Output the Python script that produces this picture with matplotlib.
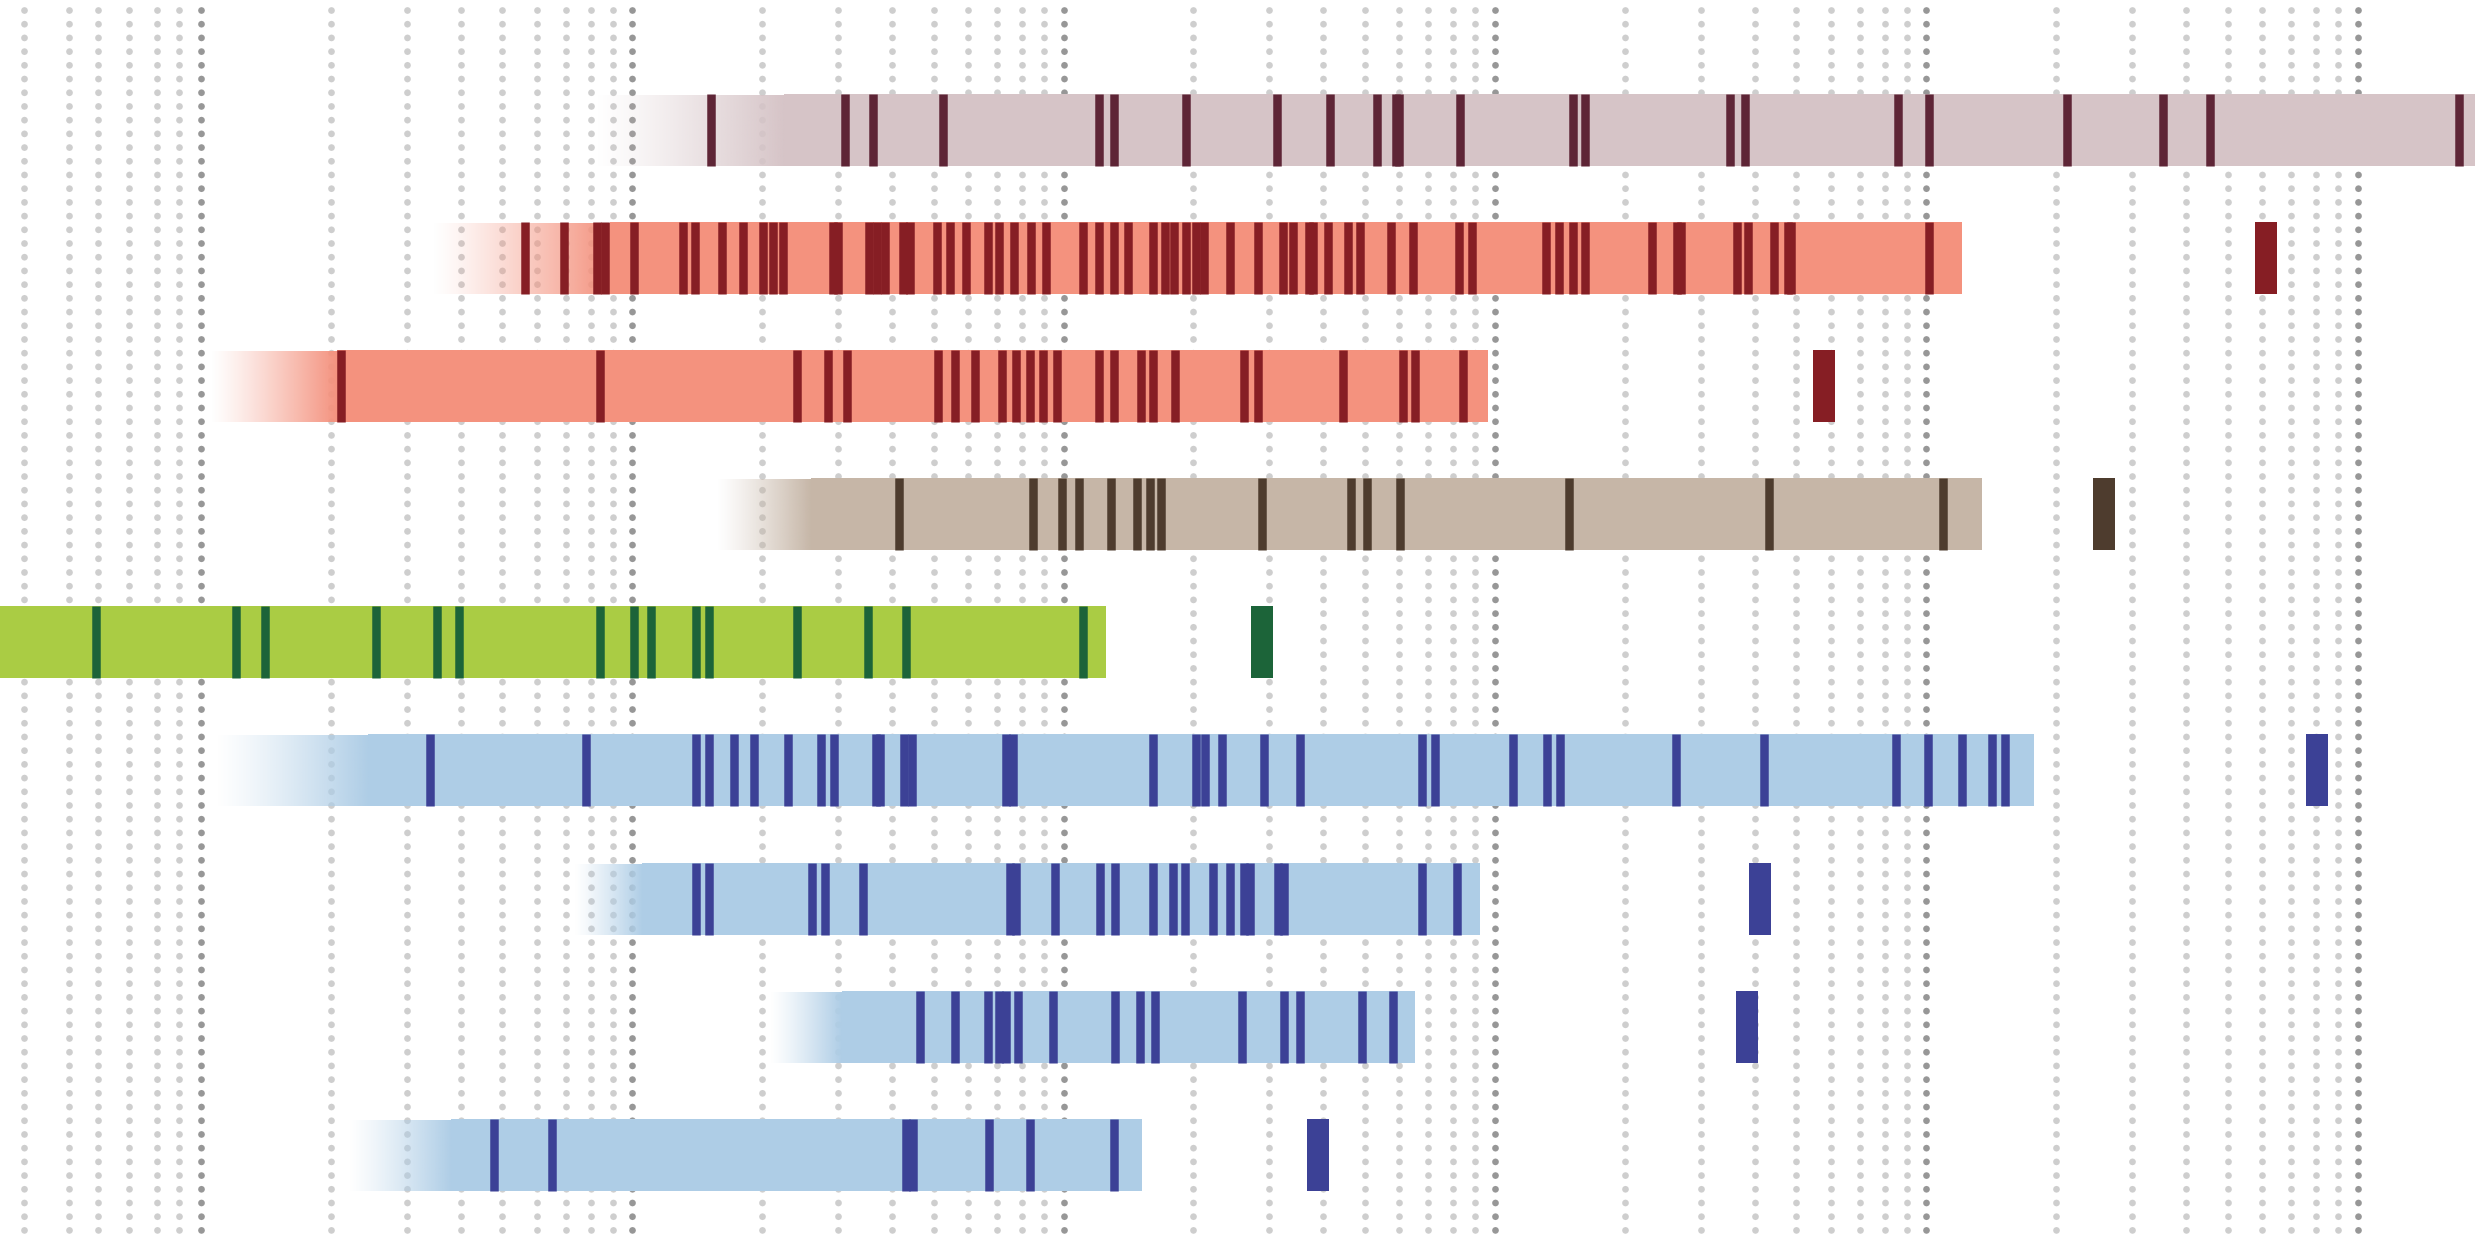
import numpy as np
import matplotlib
matplotlib.use('Agg')
from matplotlib import pyplot as plt
from matplotlib.colors import to_rgb

# vertical dotted guides on the log axis
grid_first = [0.389, 0.494, 0.578, 0.682, 0.789, 0.889]
grid_major = [1, 10, 100, 1000, 10000, 100000]
grid_minor = grid_first + [k * 10 ** n for n in range(5) for k in range(2, 10)]

# one entry per row, top to bottom
row_starts = [8.19, 3.43, 1.05, 15.6, 0.3, 1.083, 7.32, 20.9, 2.19]
row_full = [22.5, 8.87, 2.07, 25.9, 0.3, 2.44, 10.53, 30.6, 3.80]
row_ends = [250000, 12130, 960.9, 13460, 125.7, 17750, 922.6, 652.4, 152.3]
row_isolated = [None, 61160, 5792, 25820, 288.6, 80680, 4114, 3839, 389.6]

ticks_1 = [15.2, 31.2, 36.2, 52.4, 121, 131, 192, 312, 414, 534, 589, 599, 828,
           1515, 1617, 3514, 3805, 8592, 10140, 21230, 35340, 45560, 172200]
ticks_2 = [5.63, 6.93, 8.28, 8.64, 10.07, 13.1, 14.0, 16.1, 18.1, 20.05, 21.2, 22.4,
           29.2, 30.0, 35.3, 36.9, 38.5, 42.4, 44.0, 50.9, 54.5, 59.4, 66.6, 71.0,
           76.9, 83.9, 90.8, 111, 120.5, 130.8, 140.9, 160.9, 171.7, 180.7, 192.1,
           202.6, 212.1, 242.5, 282.1, 322.7, 339.6, 370.3, 379, 409.9, 455.2, 485.4,
           573, 646, 823.6, 882.7, 1313, 1407, 1515, 1621, 2318, 2649, 2698, 3636,
           3859, 4430, 4778, 4854, 10140]
ticks_3 = [2.11, 8.43, 24.1, 28.4, 31.4, 51.0, 56.0, 62.3, 71.8, 77.5, 83.4, 89.6,
           96.3, 120.5, 130.8, 151, 161.2, 181.6, 262.5, 282.1, 444.6, 610.9, 654, 843.7]
ticks_4 = [41.6, 84.9, 99.3, 108.5, 128.7, 147.8, 158.7, 168, 287.7, 464.4, 505.4,
           603.5, 1487, 4317, 10940]
ticks_5 = [0.337, 0.570, 1.207, 1.409, 2.549, 3.52, 3.97, 8.43, 10.07, 11.07, 14.07,
           15.09, 24.1, 35.2, 43.0, 110.7]
ticks_6 = [3.39, 7.80, 14.07, 15.09, 17.18, 19.12, 23.0, 27.4, 29.3, 36.8, 37.6, 42.7,
           44.4, 73.6, 76.2, 161.2, 202.6, 212.6, 233.1, 292.1, 352.4, 678, 725.9,
           1100, 1320, 1414, 2625, 4200, 8507, 10110, 12130, 14190, 15200]
ticks_7 = [14.07, 15.09, 26.1, 27.9, 34.3, 74.9, 77.5, 95.7, 121.1, 131.2, 161.2,
           179.2, 191.6, 221.7, 242.5, 262.1, 270.6, 313.2, 323.8, 678, 816.3]
ticks_8 = [46.5, 56.0, 66.6, 71.0, 73.7, 78.3, 94.7, 131.5, 150.2, 162.8, 258.8,
           324.2, 352.9, 491.2, 579.4]
ticks_9 = [4.79, 6.50, 43.1, 44.8, 67.0, 83.5, 130.9]
row_ticks = [ticks_1, ticks_2, ticks_3, ticks_4, ticks_5, ticks_6, ticks_7, ticks_8, ticks_9]

bar_colors = ['#d6c4c7', '#f4927e', '#f4927e', '#c6b6a7', '#aacc44',
              '#aecde6', '#aecde6', '#aecde6', '#aecde6']
tick_colors = ['#5e2536', '#861e24', '#861e24', '#4e3c2e', '#1c6439',
               '#3c4196', '#3c4196', '#3c4196', '#3c4196']

fig = plt.figure(figsize=(24.75, 12.38), dpi=100)
ax = fig.add_axes([0, 0, 1, 1])
ax.set_xscale('log')
PX = 72 / fig.dpi  # points per pixel
H = 0.562

# dotted guides
dot = 6.8
for vals, col in ((grid_minor, '#cecece'), (grid_major, '#979797')):
    ax.vlines(vals, -0.94, 8.8, colors=col, linewidths=dot * PX,
              linestyles=(0, (0.001, 13.7 / dot)), capstyle='round', zorder=0)

for i in range(len(row_ticks)):
    y = i
    rgb = to_rgb(bar_colors[i])
    ax.barh(y, row_ends[i] - row_full[i], left=row_full[i], height=H,
            color=bar_colors[i], lw=0, zorder=1)
    # fade-in at the start of the bar
    if row_full[i] > row_starts[i]:
        x0, x1 = row_starts[i], row_full[i] * 1.005
        xc = np.linspace(x0, x1, 600)
        frac = np.clip(np.log(xc / x0) / np.log(row_full[i] / x0), 0, 1) ** 1.2
        img = np.zeros((2, xc.size, 4))
        img[..., :3] = rgb
        img[..., 3] = frac
        ax.imshow(img, extent=(x0, x1, y + H / 2, y - H / 2), aspect='auto',
                  interpolation='bilinear', zorder=1)
    ax.vlines(row_ticks[i], y - H / 2, y + H / 2, colors=tick_colors[i],
              linewidths=8.5 * PX, capstyle='butt', zorder=2)
    if row_isolated[i] is not None:
        ax.vlines([row_isolated[i]], y - H / 2, y + H / 2, colors=tick_colors[i],
                  linewidths=22 * PX, capstyle='butt', zorder=2)

ax.set_xlim(0.342, 1.871e5)
ax.set_ylim(8.65, -1.015)
ax.axis('off')

fig.savefig('out.png', dpi=100)
